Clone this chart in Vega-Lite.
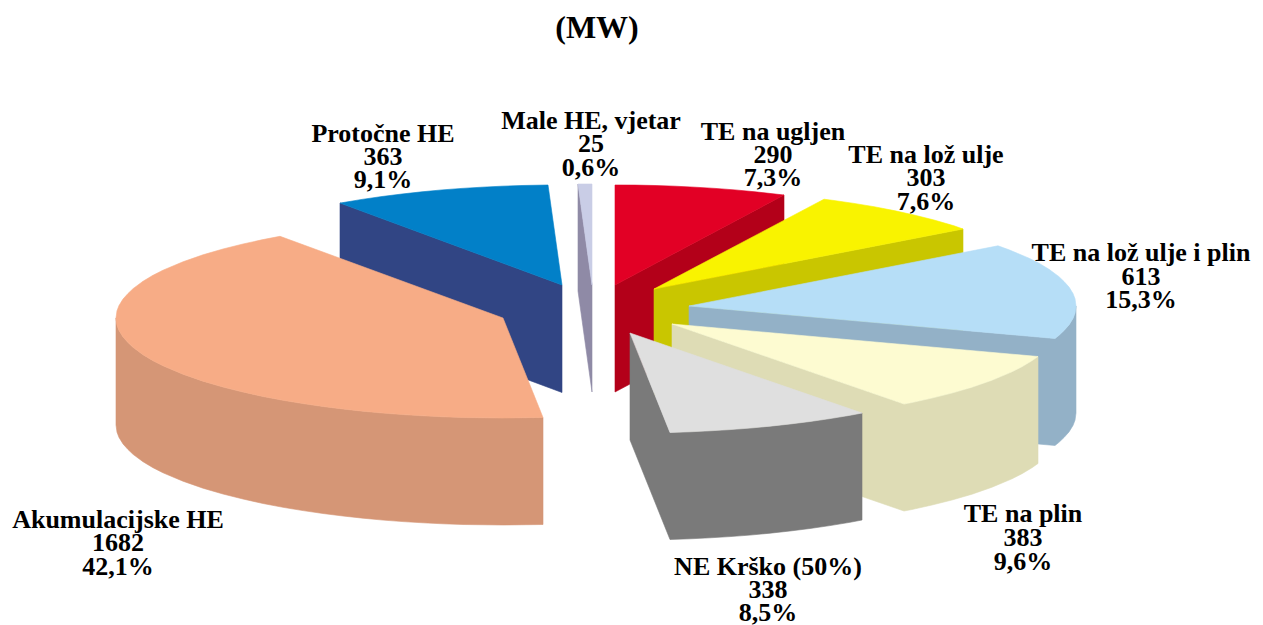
{"$schema":"https://vega.github.io/schema/vega-lite/v6.json","width":1263,"height":625,"autosize":{"type":"none"},"padding":0,"background":"white","view":{"stroke":null},
"datasets":{"faces":[
{"f":"ProtocneBok","i":0,"x":340,"y":203},{"f":"ProtocneBok","i":1,"x":562,"y":285},{"f":"ProtocneBok","i":2,"x":562,"y":392.5},{"f":"ProtocneBok","i":3,"x":340,"y":310},{"f":"ProtocneBok","i":4,"x":340,"y":203},
{"f":"Protocne","i":0,"x":340,"y":203.1},{"f":"Protocne","i":1,"x":362,"y":199.4},{"f":"Protocne","i":2,"x":382,"y":196.5},{"f":"Protocne","i":3,"x":402,"y":194},{"f":"Protocne","i":4,"x":422,"y":191.8},{"f":"Protocne","i":5,"x":442,"y":189.9},{"f":"Protocne","i":6,"x":462,"y":188.4},{"f":"Protocne","i":7,"x":482,"y":187.2},{"f":"Protocne","i":8,"x":502,"y":186.2},{"f":"Protocne","i":9,"x":522,"y":185.5},{"f":"Protocne","i":10,"x":548,"y":185},{"f":"Protocne","i":11,"x":562,"y":285},{"f":"Protocne","i":12,"x":340,"y":203.1},
{"f":"AkumBok","i":0,"x":116,"y":318},{"f":"AkumBok","i":0.3,"x":117,"y":325.2},{"f":"AkumBok","i":0.6,"x":119,"y":330.4},{"f":"AkumBok","i":1,"x":123,"y":336.9},{"f":"AkumBok","i":1.5,"x":128,"y":342.5},{"f":"AkumBok","i":2,"x":133,"y":347.3},{"f":"AkumBok","i":3,"x":143,"y":354.7},{"f":"AkumBok","i":4,"x":153,"y":360.7},{"f":"AkumBok","i":5,"x":163,"y":365.8},{"f":"AkumBok","i":6,"x":183,"y":374.2},{"f":"AkumBok","i":7,"x":203,"y":381.2},{"f":"AkumBok","i":8,"x":223,"y":387},{"f":"AkumBok","i":9,"x":243,"y":392},{"f":"AkumBok","i":10,"x":263,"y":396.5},{"f":"AkumBok","i":11,"x":283,"y":400.3},{"f":"AkumBok","i":12,"x":303,"y":403.6},{"f":"AkumBok","i":13,"x":323,"y":406.5},{"f":"AkumBok","i":14,"x":343,"y":409},{"f":"AkumBok","i":15,"x":363,"y":411.2},{"f":"AkumBok","i":16,"x":383,"y":413.1},{"f":"AkumBok","i":17,"x":403,"y":414.6},{"f":"AkumBok","i":18,"x":423,"y":415.8},{"f":"AkumBok","i":19,"x":443,"y":416.8},{"f":"AkumBok","i":20,"x":463,"y":417.5},{"f":"AkumBok","i":21,"x":503,"y":418},{"f":"AkumBok","i":22,"x":543,"y":417.5},{"f":"AkumBok","i":23,"x":543,"y":524.5},{"f":"AkumBok","i":24,"x":503,"y":525},{"f":"AkumBok","i":25,"x":463,"y":524.5},{"f":"AkumBok","i":26,"x":443,"y":523.8},{"f":"AkumBok","i":27,"x":423,"y":522.8},{"f":"AkumBok","i":28,"x":403,"y":521.6},{"f":"AkumBok","i":29,"x":383,"y":520.1},{"f":"AkumBok","i":30,"x":363,"y":518.2},{"f":"AkumBok","i":31,"x":343,"y":516},{"f":"AkumBok","i":32,"x":323,"y":513.5},{"f":"AkumBok","i":33,"x":303,"y":510.6},{"f":"AkumBok","i":34,"x":283,"y":507.3},{"f":"AkumBok","i":35,"x":263,"y":503.5},{"f":"AkumBok","i":36,"x":243,"y":499},{"f":"AkumBok","i":37,"x":223,"y":494},{"f":"AkumBok","i":38,"x":203,"y":488.2},{"f":"AkumBok","i":39,"x":183,"y":481.2},{"f":"AkumBok","i":40,"x":163,"y":472.8},{"f":"AkumBok","i":41,"x":153,"y":467.7},{"f":"AkumBok","i":42,"x":143,"y":461.7},{"f":"AkumBok","i":43,"x":133,"y":454.3},{"f":"AkumBok","i":43.5,"x":128,"y":449.5},{"f":"AkumBok","i":44,"x":123,"y":443.9},{"f":"AkumBok","i":44.3,"x":119,"y":437.4},{"f":"AkumBok","i":44.6,"x":117,"y":432.2},{"f":"AkumBok","i":45,"x":116,"y":425},{"f":"AkumBok","i":46,"x":116,"y":318},
{"f":"Akum","i":0,"x":280,"y":236.3},{"f":"Akum","i":1,"x":263,"y":239.6},{"f":"Akum","i":2,"x":243,"y":244},{"f":"Akum","i":3,"x":223,"y":249},{"f":"Akum","i":4,"x":203,"y":254.8},{"f":"Akum","i":5,"x":183,"y":261.8},{"f":"Akum","i":6,"x":163,"y":270.2},{"f":"Akum","i":7,"x":153,"y":275.3},{"f":"Akum","i":8,"x":143,"y":281.3},{"f":"Akum","i":9,"x":133,"y":288.7},{"f":"Akum","i":9.5,"x":128,"y":293.5},{"f":"Akum","i":10,"x":123,"y":299.1},{"f":"Akum","i":10.3,"x":119,"y":305.6},{"f":"Akum","i":10.6,"x":117,"y":310.8},{"f":"Akum","i":11,"x":116,"y":318},{"f":"Akum","i":11.3,"x":117,"y":325.2},{"f":"Akum","i":11.6,"x":119,"y":330.4},{"f":"Akum","i":12,"x":123,"y":336.9},{"f":"Akum","i":12.5,"x":128,"y":342.5},{"f":"Akum","i":13,"x":133,"y":347.3},{"f":"Akum","i":14,"x":143,"y":354.7},{"f":"Akum","i":15,"x":153,"y":360.7},{"f":"Akum","i":16,"x":163,"y":365.8},{"f":"Akum","i":17,"x":183,"y":374.2},{"f":"Akum","i":18,"x":203,"y":381.2},{"f":"Akum","i":19,"x":223,"y":387},{"f":"Akum","i":20,"x":243,"y":392},{"f":"Akum","i":21,"x":263,"y":396.5},{"f":"Akum","i":22,"x":283,"y":400.3},{"f":"Akum","i":23,"x":303,"y":403.6},{"f":"Akum","i":24,"x":323,"y":406.5},{"f":"Akum","i":25,"x":343,"y":409},{"f":"Akum","i":26,"x":363,"y":411.2},{"f":"Akum","i":27,"x":383,"y":413.1},{"f":"Akum","i":28,"x":403,"y":414.6},{"f":"Akum","i":29,"x":423,"y":415.8},{"f":"Akum","i":30,"x":443,"y":416.8},{"f":"Akum","i":31,"x":463,"y":417.5},{"f":"Akum","i":32,"x":503,"y":418},{"f":"Akum","i":33,"x":543,"y":417.5},{"f":"Akum","i":34,"x":503,"y":318},{"f":"Akum","i":35,"x":280,"y":236.3},
{"f":"MaleBok","i":0,"x":578,"y":184},{"f":"MaleBok","i":1,"x":592,"y":285},{"f":"MaleBok","i":2,"x":592,"y":392},{"f":"MaleBok","i":3,"x":578,"y":291},{"f":"MaleBok","i":4,"x":578,"y":184},
{"f":"Male","i":0,"x":578,"y":184},{"f":"Male","i":1,"x":592,"y":184},{"f":"Male","i":2,"x":592,"y":285},{"f":"Male","i":3,"x":578,"y":184},
{"f":"UgljenBok","i":0,"x":784,"y":195},{"f":"UgljenBok","i":1,"x":784,"y":302},{"f":"UgljenBok","i":2,"x":615,"y":392},{"f":"UgljenBok","i":3,"x":615,"y":285},{"f":"UgljenBok","i":4,"x":784,"y":195},
{"f":"Ugljen","i":0,"x":615,"y":185},{"f":"Ugljen","i":1,"x":635,"y":185.1},{"f":"Ugljen","i":2,"x":655,"y":185.5},{"f":"Ugljen","i":3,"x":675,"y":186.2},{"f":"Ugljen","i":4,"x":695,"y":187.2},{"f":"Ugljen","i":5,"x":715,"y":188.4},{"f":"Ugljen","i":6,"x":735,"y":189.9},{"f":"Ugljen","i":7,"x":755,"y":191.8},{"f":"Ugljen","i":8,"x":784,"y":195},{"f":"Ugljen","i":9,"x":615,"y":285},{"f":"Ugljen","i":10,"x":615,"y":185},
{"f":"LozBok","i":0,"x":963,"y":229},{"f":"LozBok","i":1,"x":963,"y":336},{"f":"LozBok","i":2,"x":654,"y":396},{"f":"LozBok","i":3,"x":654,"y":289},{"f":"LozBok","i":4,"x":963,"y":229},
{"f":"Loz","i":0,"x":824,"y":199.2},{"f":"Loz","i":1,"x":834,"y":200.5},{"f":"Loz","i":2,"x":854,"y":203.4},{"f":"Loz","i":3,"x":874,"y":206.7},{"f":"Loz","i":4,"x":894,"y":210.6},{"f":"Loz","i":5,"x":914,"y":215},{"f":"Loz","i":6,"x":934,"y":220},{"f":"Loz","i":7,"x":954,"y":225.8},{"f":"Loz","i":8,"x":963,"y":229},{"f":"Loz","i":9,"x":654,"y":289},{"f":"Loz","i":10,"x":824,"y":199.2},
{"f":"LozPlinBok","i":0,"x":689,"y":306},{"f":"LozPlinBok","i":1,"x":1055,"y":338.5},{"f":"LozPlinBok","i":2,"x":1059,"y":335.3},{"f":"LozPlinBok","i":2.5,"x":1064,"y":330.5},{"f":"LozPlinBok","i":3,"x":1069,"y":324.9},{"f":"LozPlinBok","i":3.3,"x":1073,"y":318.4},{"f":"LozPlinBok","i":3.6,"x":1075,"y":313.2},{"f":"LozPlinBok","i":4,"x":1076,"y":306},{"f":"LozPlinBok","i":5,"x":1076,"y":413},{"f":"LozPlinBok","i":5.3,"x":1075,"y":420.2},{"f":"LozPlinBok","i":5.6,"x":1073,"y":425.4},{"f":"LozPlinBok","i":6,"x":1069,"y":431.9},{"f":"LozPlinBok","i":6.5,"x":1064,"y":437.5},{"f":"LozPlinBok","i":7,"x":1059,"y":442.3},{"f":"LozPlinBok","i":8,"x":1055,"y":445.5},{"f":"LozPlinBok","i":9,"x":689,"y":413},{"f":"LozPlinBok","i":10,"x":689,"y":306},
{"f":"LozPlin","i":0,"x":998,"y":245.8},{"f":"LozPlin","i":1,"x":1009,"y":249.8},{"f":"LozPlin","i":2,"x":1029,"y":258.2},{"f":"LozPlin","i":3,"x":1039,"y":263.3},{"f":"LozPlin","i":4,"x":1049,"y":269.3},{"f":"LozPlin","i":5,"x":1059,"y":276.7},{"f":"LozPlin","i":5.5,"x":1064,"y":281.5},{"f":"LozPlin","i":6,"x":1069,"y":287.1},{"f":"LozPlin","i":6.3,"x":1073,"y":293.6},{"f":"LozPlin","i":6.6,"x":1075,"y":298.8},{"f":"LozPlin","i":7,"x":1076,"y":306},{"f":"LozPlin","i":7.3,"x":1075,"y":313.2},{"f":"LozPlin","i":7.6,"x":1073,"y":318.4},{"f":"LozPlin","i":8,"x":1069,"y":324.9},{"f":"LozPlin","i":8.5,"x":1064,"y":330.5},{"f":"LozPlin","i":9,"x":1059,"y":335.3},{"f":"LozPlin","i":10,"x":1055,"y":338.5},{"f":"LozPlin","i":11,"x":689,"y":306},{"f":"LozPlin","i":12,"x":998,"y":245.8},
{"f":"PlinBok","i":0,"x":672,"y":324},{"f":"PlinBok","i":1,"x":904,"y":404},{"f":"PlinBok","i":2,"x":912,"y":402.5},{"f":"PlinBok","i":3,"x":932,"y":398},{"f":"PlinBok","i":4,"x":952,"y":393},{"f":"PlinBok","i":5,"x":972,"y":387.2},{"f":"PlinBok","i":6,"x":992,"y":380.2},{"f":"PlinBok","i":7,"x":1012,"y":371.8},{"f":"PlinBok","i":8,"x":1022,"y":366.7},{"f":"PlinBok","i":9,"x":1032,"y":360.7},{"f":"PlinBok","i":10,"x":1038,"y":356.5},{"f":"PlinBok","i":11,"x":1038,"y":463.5},{"f":"PlinBok","i":12,"x":1032,"y":467.7},{"f":"PlinBok","i":13,"x":1022,"y":473.7},{"f":"PlinBok","i":14,"x":1012,"y":478.8},{"f":"PlinBok","i":15,"x":992,"y":487.2},{"f":"PlinBok","i":16,"x":972,"y":494.2},{"f":"PlinBok","i":17,"x":952,"y":500},{"f":"PlinBok","i":18,"x":932,"y":505},{"f":"PlinBok","i":19,"x":912,"y":509.5},{"f":"PlinBok","i":20,"x":904,"y":511},{"f":"PlinBok","i":21,"x":672,"y":431},{"f":"PlinBok","i":22,"x":672,"y":324},
{"f":"Plin","i":0,"x":672,"y":324},{"f":"Plin","i":1,"x":1038,"y":356.5},{"f":"Plin","i":2,"x":1032,"y":360.7},{"f":"Plin","i":3,"x":1022,"y":366.7},{"f":"Plin","i":4,"x":1012,"y":371.8},{"f":"Plin","i":5,"x":992,"y":380.2},{"f":"Plin","i":6,"x":972,"y":387.2},{"f":"Plin","i":7,"x":952,"y":393},{"f":"Plin","i":8,"x":932,"y":398},{"f":"Plin","i":9,"x":912,"y":402.5},{"f":"Plin","i":10,"x":904,"y":404},{"f":"Plin","i":11,"x":672,"y":324},
{"f":"KrskoBok","i":0,"x":630,"y":333},{"f":"KrskoBok","i":1,"x":670,"y":432.5},{"f":"KrskoBok","i":2,"x":690,"y":431.8},{"f":"KrskoBok","i":3,"x":710,"y":430.8},{"f":"KrskoBok","i":4,"x":730,"y":429.6},{"f":"KrskoBok","i":5,"x":750,"y":428.1},{"f":"KrskoBok","i":6,"x":770,"y":426.2},{"f":"KrskoBok","i":7,"x":790,"y":424},{"f":"KrskoBok","i":8,"x":810,"y":421.5},{"f":"KrskoBok","i":9,"x":830,"y":418.6},{"f":"KrskoBok","i":10,"x":850,"y":415.3},{"f":"KrskoBok","i":11,"x":862,"y":413},{"f":"KrskoBok","i":12,"x":862,"y":520},{"f":"KrskoBok","i":13,"x":850,"y":522.3},{"f":"KrskoBok","i":14,"x":830,"y":525.6},{"f":"KrskoBok","i":15,"x":810,"y":528.5},{"f":"KrskoBok","i":16,"x":790,"y":531},{"f":"KrskoBok","i":17,"x":770,"y":533.2},{"f":"KrskoBok","i":18,"x":750,"y":535.1},{"f":"KrskoBok","i":19,"x":730,"y":536.6},{"f":"KrskoBok","i":20,"x":710,"y":537.8},{"f":"KrskoBok","i":21,"x":690,"y":538.8},{"f":"KrskoBok","i":22,"x":670,"y":539.5},{"f":"KrskoBok","i":23,"x":630,"y":440},{"f":"KrskoBok","i":24,"x":630,"y":333},
{"f":"Krsko","i":0,"x":630,"y":333},{"f":"Krsko","i":1,"x":862,"y":413},{"f":"Krsko","i":2,"x":850,"y":415.3},{"f":"Krsko","i":3,"x":830,"y":418.6},{"f":"Krsko","i":4,"x":810,"y":421.5},{"f":"Krsko","i":5,"x":790,"y":424},{"f":"Krsko","i":6,"x":770,"y":426.2},{"f":"Krsko","i":7,"x":750,"y":428.1},{"f":"Krsko","i":8,"x":730,"y":429.6},{"f":"Krsko","i":9,"x":710,"y":430.8},{"f":"Krsko","i":10,"x":690,"y":431.8},{"f":"Krsko","i":11,"x":670,"y":432.5},{"f":"Krsko","i":12,"x":630,"y":333}
],
"labels":[
{"t":"Protočne HE","x":383,"y":134},{"t":"363","x":383,"y":157},{"t":"9,1%","x":383,"y":180},
{"t":"Male HE, vjetar","x":591,"y":121},{"t":"25","x":591,"y":144},{"t":"0,6%","x":591,"y":168},
{"t":"TE na ugljen","x":773,"y":132},{"t":"290","x":773,"y":155},{"t":"7,3%","x":773,"y":178},
{"t":"TE na lož ulje","x":926,"y":155},{"t":"303","x":926,"y":178},{"t":"7,6%","x":926,"y":202},
{"t":"TE na lož ulje i plin","x":1141,"y":253},{"t":"613","x":1141,"y":277},{"t":"15,3%","x":1141,"y":300},
{"t":"TE na plin","x":1023,"y":514},{"t":"383","x":1023,"y":538},{"t":"9,6%","x":1023,"y":562},
{"t":"NE Krško (50%)","x":768,"y":567},{"t":"338","x":768,"y":590},{"t":"8,5%","x":768,"y":613},
{"t":"Akumulacijske HE","x":118,"y":520},{"t":"1682","x":118,"y":543},{"t":"42,1%","x":118,"y":567}
],
"title":[{"t":"(MW)","x":597,"y":28}]},
"layer":[
{"data":{"name":"faces"},"mark":{"type":"line","strokeWidth":0.6,"interpolate":"linear"},
"encoding":{"x":{"field":"x","type":"quantitative","scale":{"domain":[0,1263],"nice":false,"zero":false},"axis":null},"y":{"field":"y","type":"quantitative","scale":{"domain":[625,0],"nice":false,"zero":false},"axis":null},"order":{"field":"i","type":"quantitative"},
"fill":{"field":"f","type":"nominal","legend":null,"scale":{"domain":["ProtocneBok","Protocne","AkumBok","Akum","MaleBok","Male","UgljenBok","Ugljen","LozBok","Loz","LozPlinBok","LozPlin","PlinBok","Plin","KrskoBok","Krsko"],"range":["#314584","#0280c8","#d59676","#f7ac86","#8f8aa6","#c9cde6","#b30019","#e20025","#c9c600","#f9f300","#93b1c7","#b6def7","#dedcb5","#fdfbd1","#7a7a7a","#dfdfdf"]}},
"stroke":{"field":"f","type":"nominal","legend":null,"scale":{"domain":["ProtocneBok","Protocne","AkumBok","Akum","MaleBok","Male","UgljenBok","Ugljen","LozBok","Loz","LozPlinBok","LozPlin","PlinBok","Plin","KrskoBok","Krsko"],"range":["#314584","#0280c8","#d59676","#f7ac86","#8f8aa6","#c9cde6","#b30019","#e20025","#c9c600","#f9f300","#93b1c7","#b6def7","#dedcb5","#fdfbd1","#7a7a7a","#dfdfdf"]}}}},
{"data":{"name":"labels"},"mark":{"type":"text","font":"Liberation Serif","fontWeight":"bold","fontSize":26,"align":"center","baseline":"middle","color":"#000000"},
"encoding":{"x":{"field":"x","type":"quantitative"},"y":{"field":"y","type":"quantitative"},"text":{"field":"t"}}},
{"data":{"name":"title"},"mark":{"type":"text","font":"Liberation Serif","fontWeight":"bold","fontSize":32,"align":"center","baseline":"middle","color":"#000000"},
"encoding":{"x":{"field":"x","type":"quantitative"},"y":{"field":"y","type":"quantitative"},"text":{"field":"t"}}}
]}
